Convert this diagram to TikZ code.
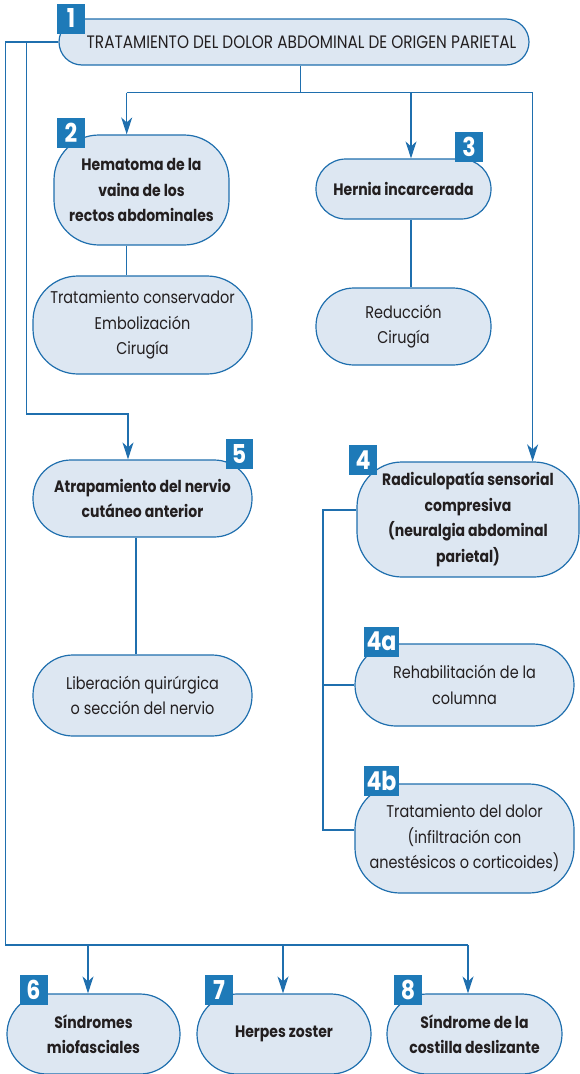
\documentclass[tikz,border=0pt]{standalone}
\usepackage{fontspec}
\setmainfont{Poppins}[FakeStretch=0.85]
\usetikzlibrary{arrows.meta}
\definecolor{FlowLine}{HTML}{1F6FAE}
\definecolor{FlowFill}{HTML}{DDE7F2}
\definecolor{FlowTag}{HTML}{1E7AB8}
\definecolor{FlowText}{HTML}{231F20}

\tikzset{
  pill/.style={draw=FlowLine, fill=FlowFill, line width=1.2pt, rounded corners=#1,
    inner sep=0pt, align=center, text=FlowText, font=\fontsize{17}{25.5}\selectfont},
  pill/.default=40pt,
  pillbold/.style={pill=#1, font=\fontsize{16.5}{25.5}\selectfont\bfseries},
  pillbold/.default=40pt,
  tag/.style={fill=FlowTag, text=white, inner sep=0pt, minimum width=28pt,
    minimum height=30pt, font=\fontsize{26}{26}\selectfont\bfseries},
  link/.style={draw=FlowLine, line width=1.3pt},
  arrow/.style={link, -{Stealth[length=17pt,width=11pt,inset=5pt]}}
}

\begin{document}
\begin{tikzpicture}[x=1pt,y=-1pt]
  \useasboundingbox (0,0) rectangle (580,1074);

  % boxes
  \node[pill=23pt, minimum width=470pt, minimum height=46pt,
    font=\fontsize{18}{20}\selectfont] (titulo) at (294,42)
    {\hspace*{15pt}TRATAMIENTO DEL DOLOR ABDOMINAL DE ORIGEN PARIETAL};
  \node[pillbold=45pt, minimum width=175pt, minimum height=110pt] (hematoma) at (141.5,190)
    {Hematoma de la\\vaina de los\\rectos abdominales};
  \node[pill=45pt, minimum width=219pt, minimum height=98pt] (hematrat) at (142.5,325)
    {Tratamiento conservador\\Embolización\\Cirugía};
  \node[pillbold=30pt, minimum width=175pt, minimum height=60pt] (hernia) at (403.5,189)
    {Hernia incarcerada};
  \node[pill=38pt, minimum width=175pt, minimum height=77pt] (herniatrat) at (403.5,326.5)
    {Reducción\\Cirugía};
  \node[pillbold=38pt, minimum width=219pt, minimum height=77pt] (atrap) at (142.5,498.5)
    {Atrapamiento del nervio\\cutáneo anterior};
  \node[pill=40pt, minimum width=219pt, minimum height=81pt] (atraptrat) at (142.5,695.5)
    {Liberación quirúrgica\\o sección del nervio};
  \node[pillbold=45pt, minimum width=222pt, minimum height=115pt] (radic) at (468,519.5)
    {Radiculopatía sensorial\\compresiva\\(neuralgia abdominal\\parietal)};
  \node[pill=41pt, minimum width=219pt, minimum height=82pt] (rehab) at (464.5,685)
    {Rehabilitación de la\\columna};
  \node[pill=45pt, minimum width=219pt, minimum height=109pt] (dolor) at (464.5,838.5)
    {Tratamiento del dolor\\(infiltración con\\anestésicos o corticoides)};
  \node[pillbold=40pt, minimum width=173pt, minimum height=80pt] (miofas) at (93.5,1034)
    {Síndromes\\miofasciales};
  \node[pillbold=40pt, minimum width=174pt, minimum height=80pt] (herpes) at (284,1034)
    {Herpes zoster};
  \node[pillbold=40pt, minimum width=175pt, minimum height=80pt] (costilla) at (474.5,1034)
    {Síndrome de la\\costilla deslizante};

  % number tags
  \foreach \name/\pos/\num/\tagw in {tA/{(71,18.5)}/1/28pt, tB/{(71,133)}/2/28pt,
      tC/{(469,147)}/3/28pt, tD/{(363,460)}/4/28pt, tE/{(239,453.5)}/5/27pt,
      tF/{(381.5,641.5)}/4a/35pt, tG/{(381.5,780.5)}/4b/35pt,
      tH/{(33.5,990)}/6/28pt, tI/{(219,990)}/7/28pt, tJ/{(408,990)}/8/28pt}
    \node[tag, minimum width=\tagw] (\name) at \pos {\num};

  % junctions
  \coordinate (stem) at (300.7,92.7);
  \coordinate (k2) at (126.7,92.7);
  \coordinate (k3) at (411,92.7);
  \coordinate (k4) at (532.6,92.7);
  \coordinate (trunkA) at (5.6,945);
  \coordinate (trunkB) at (26.7,414);
  \coordinate (k5) at (128,414);
  \coordinate (s5) at (136,600);
  \coordinate (br1) at (323,510);
  \coordinate (br3) at (323,830);
  \coordinate (b6) at (88,945);
  \coordinate (b7) at (283,945);
  \coordinate (b8) at (468,945);

  % connectors
  \draw[link] (stem |- titulo.south) -- (stem);
  \draw[link] (k2) -- (k4);
  \draw[arrow] (k2) -- (k2 |- hematoma.north);
  \draw[arrow] (k3) -- (k3 |- hernia.north);
  \draw[arrow] (k4) -- (k4 |- radic.north);
  \draw[link] (hematoma.south -| k2) -- (hematrat.north -| k2);
  \draw[link] (hernia.south -| k3) -- (herniatrat.north -| k3);
  \draw[link] (atrap.south -| s5) -- (atraptrat.north -| s5);
  \draw[arrow] (trunkB |- titulo.west) -- (trunkB) -- (k5) -- (k5 |- atrap.north);
  \draw[link] (titulo.west) -| (trunkA) -- (b8);
  \draw[arrow] (b6) -- (b6 |- miofas.north);
  \draw[arrow] (b7) -- (b7 |- herpes.north);
  \draw[arrow] (b8) -- (b8 |- costilla.north);
  \draw[link] (br1 -| radic.west) -- (br1) -- (br3) -- (br3 -| dolor.west);
  \draw[link] (br1 |- rehab.west) -- (rehab.west);
\end{tikzpicture}
\end{document}
